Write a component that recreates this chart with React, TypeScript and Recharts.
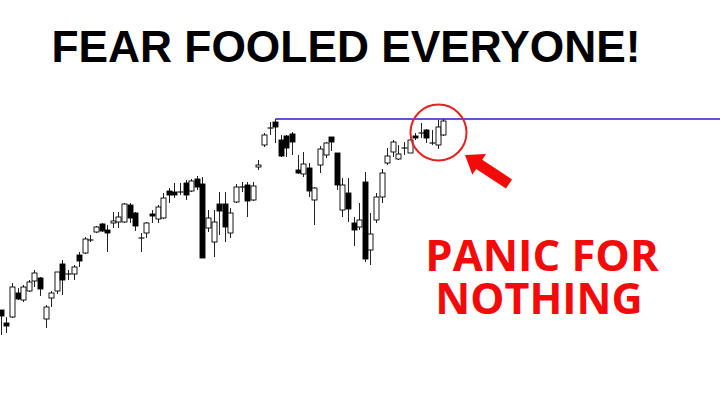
import React from 'react';
import { ComposedChart, Bar, XAxis, YAxis, ReferenceLine, ReferenceDot } from 'recharts';

// price units (higher = higher on screen)
const opens = [94, 81, 87, 111, 104, 113, 123, 126, 85, 106, 113, 140, 130, 130, 149, 151, 164, 172, 180, 174,
    181, 182, 182, 199, 191, 166, 171, 190, 185, 186, 213, 212, 212, 221, 213, 225, 220, 176, 162, 200,
    200, 171, 202, 217, 219, 204, 237, 259, 276, 282, 264, 268, 270, 234, 230, 236, 204, 239, 249, 267,
    251, 194, 211, 181, 177, 222, 154, 184, 207, 241, 252, 245, 256, 251, 268, 271, 274, 261, 259, 269];
const closes = [88, 78, 117, 105, 117, 122, 131, 115, 97, 111, 132, 124, 130, 137, 143, 165, 164, 177, 173, 171,
    183, 187, 200, 186, 178, 166, 181, 188, 197, 206, 209, 209, 212, 209, 223, 217, 146, 186, 182, 193,
    177, 191, 217, 217, 203, 218, 239, 269, 276, 277, 248, 256, 262, 231, 240, 213, 216, 255, 261, 262,
    219, 219, 195, 174, 184, 145, 170, 207, 231, 248, 262, 250, 256, 264, 266, 271, 266, 261, 277, 283];
const highs = [94, 87, 121, 116, 119, 124, 134, 127, 99, 113, 132, 144, 134, 139, 152, 167, 169, 178, 181, 179,
    192, 192, 201, 201, 192, 171, 182, 194, 199, 211, 216, 221, 221, 224, 225, 228, 227, 194, 194, 212,
    212, 196, 220, 222, 222, 222, 244, 271, 282, 285, 269, 269, 272, 249, 252, 241, 217, 258, 262, 267,
    251, 226, 226, 187, 201, 232, 191, 211, 235, 256, 264, 259, 262, 265, 271, 281, 275, 274, 284, 285];
const lows = [69, 71, 86, 104, 102, 112, 117, 108, 76, 97, 110, 109, 124, 124, 137, 150, 162, 171, 172, 152,
    176, 176, 181, 181, 173, 152, 166, 181, 181, 185, 201, 206, 209, 204, 212, 214, 146, 172, 147, 169,
    162, 166, 201, 212, 187, 203, 234, 257, 269, 261, 247, 247, 249, 230, 227, 207, 179, 231, 246, 253,
    214, 187, 182, 158, 174, 142, 139, 181, 201, 239, 247, 244, 249, 251, 264, 266, 261, 259, 255, 268];
const resistance = 285;

const candles = opens.map((open, idx) => ({
    idx,
    open,
    close: closes[idx],
    high: highs[idx],
    low: lows[idx],
}));

const Candle = (props: any) => {
    const { x, y, width, height, payload } = props;
    const { open, close, high, low } = payload;
    const top = Math.min(y, y + height);
    const h = Math.abs(height);
    const toY = (v: number) => (high === low ? top : top + ((high - v) / (high - low)) * h);
    const cx = Math.round(x + width / 2) + 0.5;
    const bodyTop = toY(Math.max(open, close));
    const bodyBot = toY(Math.min(open, close));
    const up = close > open;
    const flat = open === close;
    return (
        <g>
            <line x1={cx} x2={cx} y1={top} y2={top + h} stroke="#222" strokeWidth={1} />
            {flat ? (
                <line x1={cx - 3} x2={cx + 3} y1={bodyTop} y2={bodyTop} stroke="#111" strokeWidth={1.2} />
            ) : (
                <rect
                    x={cx - 2.5}
                    y={bodyTop}
                    width={5}
                    height={Math.max(bodyBot - bodyTop, 1)}
                    fill={up ? '#fff' : '#000'}
                    stroke="#000"
                    strokeWidth={0.9}
                />
            )}
        </g>
    );
};

// arrow polygon from tip and tail
const arrowPoints = (() => {
    const tip = [465, 155];
    const tail = [509, 184];
    const dx = tail[0] - tip[0];
    const dy = tail[1] - tip[1];
    const len = Math.hypot(dx, dy);
    const ux = dx / len, uy = dy / len;
    const nx = -uy, ny = ux;
    const hl = 17, hw = 12.5, sw = 5.5;
    const bx = tip[0] + ux * hl, by = tip[1] + uy * hl;
    const pts = [
        [tip[0], tip[1]],
        [bx + nx * hw, by + ny * hw],
        [bx + nx * sw, by + ny * sw],
        [tail[0] + nx * sw, tail[1] + ny * sw],
        [tail[0] - nx * sw, tail[1] - ny * sw],
        [bx - nx * sw, by - ny * sw],
        [bx - nx * hw, by - ny * hw],
    ];
    return pts.map((p) => p.join(',')).join(' ');
})();

const redText: React.CSSProperties = {
    position: 'absolute',
    width: 300,
    height: 43,
    lineHeight: '43px',
    textAlign: 'center',
    fontFamily: "'Open Sans', sans-serif",
    fontWeight: 'bold',
    color: '#f50a0a',
    whiteSpace: 'nowrap',
};

export default function App() {
    return (
        <div style={{ position: 'absolute', left: 0, top: 0, width: 720, height: 404, background: '#fff' }}>
            <ComposedChart width={720} height={404} data={candles} margin={{ top: 0, right: 0, bottom: 0, left: 0 }}>
                <XAxis dataKey="idx" type="number" domain={[-0.18, 128.39]} hide allowDataOverflow />
                <YAxis type="number" domain={[0, 404]} hide allowDataOverflow />
                <ReferenceLine
                    segment={[{ x: 49, y: resistance }, { x: 128.39, y: resistance }]}
                    stroke="#2f17c9"
                    strokeWidth={1.4}
                />
                <Bar dataKey={(d: any) => [d.low, d.high]} barSize={5} shape={<Candle />} isAnimationActive={false} />
                <ReferenceDot x={78.12} y={271.5} r={28} fill="none" stroke="#e52222" strokeWidth={2} />
            </ComposedChart>
            <svg width={720} height={404} style={{ position: 'absolute', left: 0, top: 0, pointerEvents: 'none' }}>
                <text x={346} y={62} textAnchor="middle" fontFamily="'Liberation Sans', Arial, sans-serif" fontWeight="bold" fontSize={44.3} fill="#000">
                    FEAR FOOLED EVERYONE!
                </text>
                <polygon points={arrowPoints} fill="#f50a0a" />
            </svg>
            <div style={{ ...redText, left: 392, top: 232.6, fontSize: 43.5 }}>PANIC FOR</div>
            <div style={{ ...redText, left: 389, top: 275.8, fontSize: 43 }}>NOTHING</div>
        </div>
    );
}
